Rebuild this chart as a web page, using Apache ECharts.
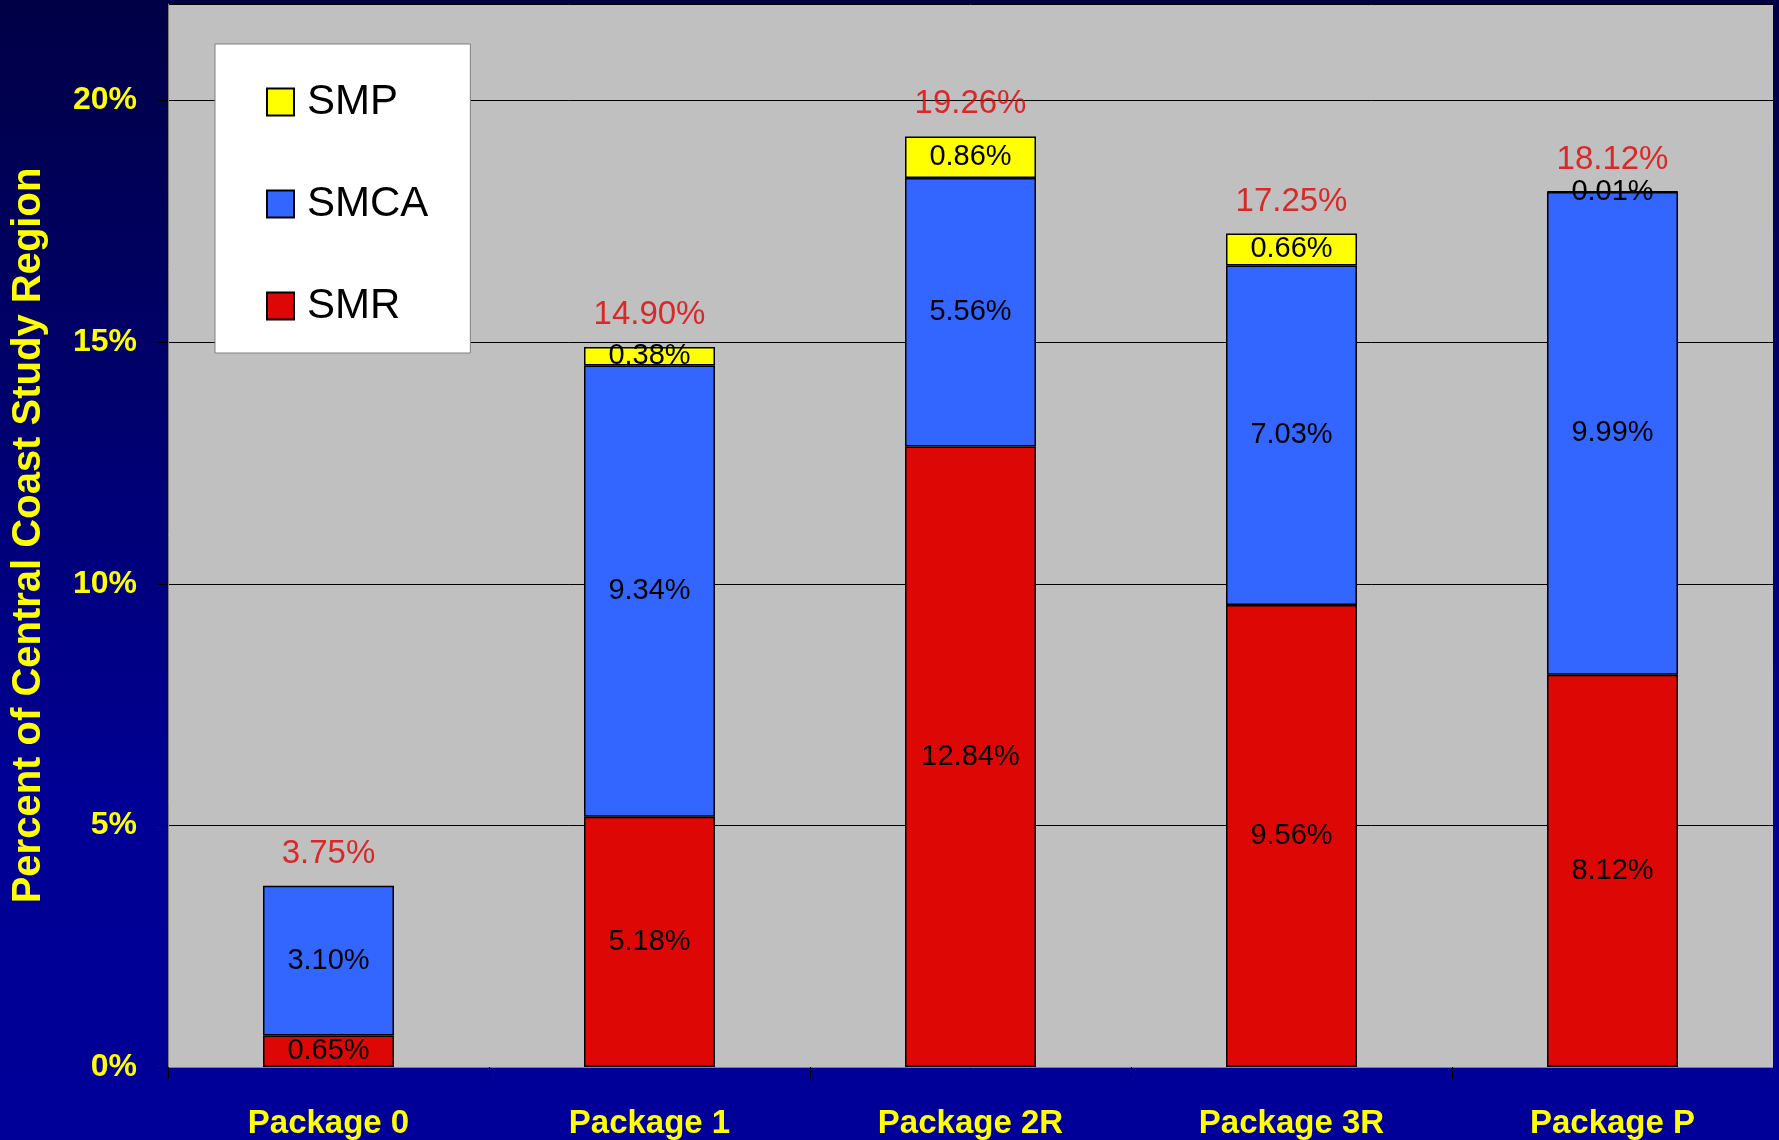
<!DOCTYPE html>
<html>
<head>
<meta charset="utf-8">
<script src="https://cdn.jsdelivr.net/npm/echarts@6/dist/echarts.min.js"></script>
<style>html,body{margin:0;padding:0;}#c{width:1779px;height:1140px;}</style>
</head>
<body>
<div id="c"></div>
<script>
const categories = ['Package 0', 'Package 1', 'Package 2R', 'Package 3R', 'Package P'];
const smr  = [0.65, 5.18, 12.84, 9.56, 8.12];
const smca = [3.10, 9.34, 5.56, 7.03, 9.99];
const smp  = [null, 0.38, 0.86, 0.66, 0.01];
const totals = [3.75, 14.90, 19.26, 17.25, 18.12];
const yTicks = [0, 5, 10, 15, 20];

const FONT = "'Liberation Sans', Arial, sans-serif";
const chart = echarts.init(document.getElementById('c'), null, {renderer: 'canvas'});

const segLabel = {
  show: true, position: 'inside', color: '#000', fontSize: 29, fontFamily: FONT,
  formatter: p => (p.value == null ? '' : p.value.toFixed(2) + '%')
};
const barStyle = c => ({color: c, borderColor: '#000', borderWidth: 1.5});

chart.setOption({
  animation: false,
  backgroundColor: new echarts.graphic.LinearGradient(0, 0, 0, 1, [
    {offset: 0, color: '#000046'},
    {offset: 0.7, color: '#000094'},
    {offset: 1, color: '#000099'}
  ]),
  grid: {left: 168, right: 6, top: 4, bottom: 73, show: true, backgroundColor: '#C0C0C0', borderWidth: 0,
    containLabel: false, outerBoundsMode: 'none'},
  legend: {
    data: ['SMP', 'SMCA', 'SMR'], orient: 'vertical', left: 215, top: 44,
    padding: [37, 42, 26, 51], itemGap: 60, itemWidth: 27, itemHeight: 27, icon: 'rect',
    backgroundColor: '#fff', borderColor: '#808080', borderWidth: 1,
    textStyle: {fontSize: 42, color: '#000', fontFamily: FONT, padding: [0, 0, 0, 8]}
  },
  xAxis: {
    type: 'category', data: categories,
    axisLine: {show: true, lineStyle: {color: '#808080', width: 1}},
    axisTick: {show: true, length: 12, lineStyle: {color: '#000'}},
    axisLabel: {color: '#FFFF00', fontSize: 33, fontWeight: 'bold', fontFamily: FONT, margin: 40}
  },
  yAxis: {
    type: 'value', min: 0, max: 22, interval: 5,
    name: 'Percent of Central Coast Study Region', nameLocation: 'middle', nameGap: 119,
    nameTextStyle: {color: '#FFFF00', fontSize: 40, fontWeight: 'bold', fontFamily: FONT},
    axisLine: {show: true, lineStyle: {color: '#808080', width: 1}},
    axisTick: {show: true, length: 11, lineStyle: {color: '#000'}},
    axisLabel: {color: '#FFFF00', fontSize: 32, fontWeight: 'bold', fontFamily: FONT, margin: 31,
      showMaxLabel: false, padding: [4, 0, 0, 0],
      formatter: v => (yTicks.indexOf(v) >= 0 ? v + '%' : '')},
    splitLine: {show: true, lineStyle: {color: '#000', width: 1}}
  },
  series: [
    {name: 'SMR', type: 'bar', stack: 't', data: smr, barWidth: 131, itemStyle: barStyle('#DD0806'), label: segLabel},
    {name: 'SMCA', type: 'bar', stack: 't', data: smca, barWidth: 131, itemStyle: barStyle('#3366FF'), label: segLabel},
    {name: 'SMP', type: 'bar', stack: 't', data: smp, barWidth: 131, itemStyle: barStyle('#FFFF00'), label: segLabel},
    {name: 'Total', type: 'scatter', data: totals, symbolSize: 1, itemStyle: {color: 'rgba(0,0,0,0)'},
      label: {show: true, position: 'top', distance: 15, color: '#E00000', fontSize: 33, lineHeight: 33, fontFamily: FONT,
        formatter: p => p.value.toFixed(2) + '%'}, z: 5}
  ]
});
</script>
</body>
</html>
